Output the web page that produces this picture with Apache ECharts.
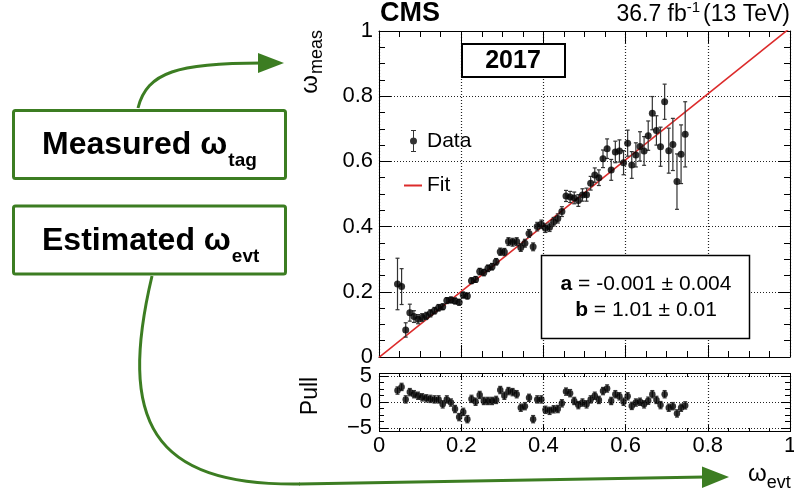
<!DOCTYPE html>
<html><head><meta charset="utf-8">
<script src="https://cdn.jsdelivr.net/npm/echarts@6/dist/echarts.min.js"></script>
<style>html,body{margin:0;padding:0;background:#fff}#c{width:794px;height:489px}</style>
</head><body><div id="c"></div>
<script>
// ---------------- data ----------------
const binX = [0.045,0.055,0.065,0.075,0.085,0.095,0.105,0.115,0.125,0.135,
  0.145,0.155,0.165,0.175,0.185,0.195,0.205,0.215,0.225,0.235,
  0.245,0.255,0.265,0.275,0.285,0.295,0.305,0.315,0.325,0.335,
  0.345,0.355,0.365,0.375,0.385,0.395,0.405,0.415,0.425,0.435,
  0.445,0.455,0.465,0.475,0.485,0.495,0.505,0.515,0.525,0.535,
  0.545,0.555,0.565,0.575,0.585,0.595,0.605,0.615,0.625,0.635,
  0.645,0.655,0.665,0.675,0.685,0.695,0.705,0.715,0.725,0.735,0.745];
const wMeas = [0.224,0.216,0.083,0.136,0.124,0.116,0.121,0.126,0.134,0.142,
  0.151,0.154,0.173,0.175,0.172,0.168,0.190,0.187,0.234,0.238,
  0.262,0.259,0.272,0.277,0.292,0.323,0.322,0.354,0.352,0.354,
  0.336,0.349,0.379,0.338,0.400,0.407,0.395,0.398,0.415,0.425,
  0.446,0.494,0.491,0.488,0.480,0.497,0.498,0.533,0.558,0.550,
  0.608,0.639,0.574,0.629,0.632,0.596,0.656,0.589,0.620,0.646,
  0.632,0.679,0.748,0.695,0.645,0.783,0.633,0.652,0.538,0.622,0.683];
const wMeasErr = [0.079,0.055,0.022,0.026,0.018,0.014,0.012,0.011,0.011,0.010,
  0.010,0.009,0.009,0.009,0.009,0.009,0.009,0.009,0.009,0.009,
  0.010,0.010,0.010,0.010,0.010,0.011,0.011,0.012,0.012,0.012,
  0.012,0.012,0.012,0.012,0.013,0.013,0.013,0.013,0.013,0.014,
  0.015,0.017,0.017,0.018,0.018,0.019,0.020,0.021,0.022,0.024,
  0.027,0.030,0.032,0.033,0.034,0.037,0.040,0.041,0.037,0.045,
  0.044,0.045,0.051,0.045,0.060,0.054,0.069,0.080,0.085,0.090,0.100];
const pullVals = [2.2,2.9,0.5,1.9,1.5,1.2,0.9,0.7,0.6,0.5,
  0.5,-0.45,0.5,-0.1,-1.35,-2.9,-1.9,-3.3,0.6,0.05,
  1.35,0.2,0.2,0.2,0.4,2.3,1.2,2.1,1.9,1.5,
  -1.1,-0.8,0.8,-3.3,0.5,0.5,-1.5,-1.7,-1.4,-1.35,
  -0.25,2.0,1.7,0.2,-0.6,-0.1,-0.45,0.5,1.2,0.4,
  2.1,2.6,0.2,1.5,1.1,0.05,1.1,-0.75,-0.1,0.05,
  -0.45,0.25,1.5,0.4,-0.6,1.5,-1.1,-0.8,-2.2,-1.1,-0.65];
const pullErrBar = 0.7;
const fitA = -0.001, fitB = 1.01;
const fitText = ['{b|a} = -0.001 ± 0.004', '{b|b} = 1.01 ± 0.01'];

// ---------------- styling ----------------
const FONT = '"Liberation Sans", Arial, Helvetica, sans-serif';
const GREEN = '#3c7d22';
const RED = '#dc2b2b';
const GRIDC = '#222';

const cv = document.createElement('canvas').getContext('2d');
function tw(t, f){ cv.font = f; return cv.measureText(t).width; }

const chart = echarts.init(document.getElementById('c'), null, {renderer:'canvas', width:794, height:489});

function errRender(cap, color){
  return function(params, api){
    const x = api.value(0), y = api.value(1), e = api.value(2);
    const t = api.coord([x, y + e]), b = api.coord([x, y - e]);
    const st = {stroke: color, lineWidth: 1.2};
    return {type:'group', children:[
      {type:'line', shape:{x1:t[0], y1:t[1], x2:b[0], y2:b[1]}, style:st},
      {type:'line', shape:{x1:t[0]-cap, y1:t[1], x2:t[0]+cap, y2:t[1]}, style:st},
      {type:'line', shape:{x1:b[0]-cap, y1:b[1], x2:b[0]+cap, y2:b[1]}, style:st}
    ]};
  };
}

const mainPts = binX.map((x,i)=>[x, wMeas[i]]);
const mainErr = binX.map((x,i)=>[x, wMeas[i], wMeasErr[i]]);
const pullPts = binX.map((x,i)=>[x, pullVals[i]]);
const pullErr = binX.map((x,i)=>[x, pullVals[i], pullErrBar]);
const fitLine = [[0, fitA + fitB*0], [1, fitA + fitB*1]];

const blk = {color:'#000', width:1};
function xAx(grid, pos, opts){
  return Object.assign({
    type:'value', gridIndex:grid, position:pos, min:0, max:1, interval:0.2,
    axisLine:{show:true, onZero:false, lineStyle:blk},
    axisTick:{show:true, inside:true, length:12, lineStyle:blk},
    minorTick:{show:true, splitNumber:4, length:6, lineStyle:blk},
    axisLabel:{show:false},
    splitLine:{show:false}
  }, opts);
}
function yAx(grid, pos, opts){
  return Object.assign({
    type:'value', gridIndex:grid, position:pos, min:0, max:1, interval:0.2,
    axisLine:{show:true, onZero:false, lineStyle:blk},
    axisTick:{show:true, inside:true, length:12, lineStyle:blk},
    minorTick:{show:true, splitNumber:4, length:6, lineStyle:blk},
    axisLabel:{show:false},
    splitLine:{show:false}
  }, opts);
}
const lblStyle = {show:true, color:'#000', fontSize:22, fontFamily:FONT};
const dotted = {show:true, lineStyle:{color:GRIDC, type:[1,2], width:1.2}};
const noLine = {show:false, onZero:false};

// text helpers
const fMeas = 'bold 32px ' + FONT, fSub = 'bold 19px ' + FONT;
const wM = tw('Measured ω', fMeas), wE = tw('Estimated ω', fMeas);
const fLumi = '23px ' + FONT, fLumiSup = '15px ' + FONT;
const l3 = '(13 TeV)', l2 = '-1', l1 = '36.7 fb';
const xL3 = 790 - tw(l3, fLumi);
const xL2 = xL3 - 3 - tw(l2, fLumiSup);
const xL1 = xL2 - tw(l1, fLumi);
const wOmega = tw('ω', '24px ' + FONT);
const wMeasSub = tw('meas', '18px ' + FONT);

function txt(x, y, text, font, align, vAlign, extra){
  return Object.assign({type:'text', x:x, y:y, style:{text:text, font:font, fill:'#000', align:align||'left', verticalAlign:vAlign||'middle'}}, extra||{});
}

const graphics = [
  // annotation boxes
  {type:'rect', shape:{x:13.5, y:110.5, width:272, height:68, r:2}, style:{fill:'none', stroke:GREEN, lineWidth:3}},
  {type:'rect', shape:{x:13.5, y:206, width:272, height:68, r:2}, style:{fill:'none', stroke:GREEN, lineWidth:3}},
  txt(42, 145, 'Measured ω', fMeas),
  txt(42 + wM + 1, 161, 'tag', fSub),
  txt(42, 241, 'Estimated ω', fMeas),
  txt(42 + wE + 1, 257, 'evt', fSub),
  // arrows
  {type:'bezierCurve', shape:{x1:138, y1:108, cpx1:147, cpy1:72, cpx2:178, cpy2:63, x2:262, y2:63}, style:{fill:'none', stroke:GREEN, lineWidth:3}},
  {type:'polygon', shape:{points:[[258,53],[284,63],[258,73]]}, style:{fill:GREEN}},
  {type:'bezierCurve', shape:{x1:152, y1:276, cpx1:118, cpy1:420, cpx2:150, cpy2:486, x2:300, y2:484}, style:{fill:'none', stroke:GREEN, lineWidth:3}},
  {type:'line', shape:{x1:299, y1:484, x2:705, y2:477}, style:{stroke:GREEN, lineWidth:3}},
  {type:'polygon', shape:{points:[[702,466.5],[729,477],[702,488]]}, style:{fill:GREEN}},
  // header
  txt(380, 14, 'CMS', 'bold 27px ' + FONT),
  txt(xL1, 15, l1, fLumi),
  txt(xL2, 8, l2, fLumiSup),
  txt(xL3, 15, l3, fLumi),
  // year box
  {type:'rect', shape:{x:462, y:44, width:103, height:33}, style:{fill:'#fff', stroke:'#000', lineWidth:2}, z:10},
  txt(513, 61, '2017', 'bold 25px ' + FONT, 'center', 'middle', {z:11}),
  // fit box
  {type:'rect', shape:{x:541.5, y:255.5, width:208, height:83}, style:{fill:'#fff', stroke:'#000', lineWidth:1.5}, z:10},
  {type:'text', x:646, y:284, z:11, style:{text:fitText[0], font:'21px ' + FONT, fill:'#000', align:'center', verticalAlign:'middle', rich:{b:{fontWeight:'bold', fontSize:21, fontFamily:FONT}}}},
  {type:'text', x:646, y:310, z:11, style:{text:fitText[1], font:'21px ' + FONT, fill:'#000', align:'center', verticalAlign:'middle', rich:{b:{fontWeight:'bold', fontSize:21, fontFamily:FONT}}}},
  // axis titles
  txt(317, 30, 'meas', '18px ' + FONT, 'right', 'middle', {rotation:Math.PI/2}),
  txt(310, 30 + wMeasSub + 1, 'ω', '24px ' + FONT, 'right', 'middle', {rotation:Math.PI/2}),
  txt(311, 396, 'Pull', '23px ' + FONT, 'center', 'middle', {rotation:Math.PI/2}),
  txt(748, 474, 'ω', '24px ' + FONT),
  txt(748 + wOmega, 483, 'evt', '18px ' + FONT),
  // pull frame
  {type:'rect', shape:{x:379.5, y:373.5, width:411, height:58}, style:{fill:'none', stroke:'#000', lineWidth:1}, z:5}
];

const option = {
  animation:false,
  backgroundColor:'#fff',
  grid:[
    {left:379, top:31, width:411, height:326, outerBoundsMode:'none', containLabel:false},
    {left:379, top:376, width:411, height:52, outerBoundsMode:'none', containLabel:false}
  ],
  xAxis:[
    xAx(0, 'bottom', {splitLine:dotted}),
    xAx(0, 'top'),
    xAx(1, 'bottom', {offset:4, axisLine:noLine, axisTick:{show:true, inside:true, length:7, lineStyle:blk},
      minorTick:{show:true, splitNumber:4, length:4, lineStyle:blk},
      axisLabel:Object.assign({margin:3}, lblStyle), splitLine:dotted}),
    xAx(1, 'top', {offset:3, axisLine:noLine, axisTick:{show:true, inside:true, length:7, lineStyle:blk},
      minorTick:{show:true, splitNumber:4, length:4, lineStyle:blk}})
  ],
  yAxis:[
    yAx(0, 'left', {axisLabel:Object.assign({margin:6}, lblStyle), splitLine:dotted}),
    yAx(0, 'right'),
    yAx(1, 'left', {min:-5, max:5, interval:5, axisLine:noLine,
      axisTick:{show:true, inside:true, length:9, lineStyle:blk},
      minorTick:{show:true, splitNumber:4, length:5, lineStyle:blk},
      axisLabel:Object.assign({margin:7, formatter:v=>String(v).replace('-', '\u2212')}, lblStyle), splitLine:dotted}),
    yAx(1, 'right', {min:-5, max:5, interval:5, axisLine:noLine,
      axisTick:{show:true, inside:true, length:9, lineStyle:blk},
      minorTick:{show:true, splitNumber:4, length:5, lineStyle:blk}})
  ],
  legend:[
    {data:[{name:'Data', icon:'path://M1,0 H6 V1 H4 V21 H6 V22 H1 V21 H3 V1 H1 Z M7,11 A3.5,3.5 0 1 1 0,11 A3.5,3.5 0 1 1 7,11 Z'}],
     left:410, top:130, itemWidth:7, itemHeight:22, padding:0, selectedMode:false,
     textStyle:{fontSize:21, fontFamily:FONT, color:'#000', padding:[0,0,0,5]}},
    {data:[{name:'Fit', icon:'rect'}],
     left:404, top:175, itemWidth:18, itemHeight:2, padding:0, selectedMode:false,
     textStyle:{fontSize:21, fontFamily:FONT, color:'#000'}}
  ],
  series:[
    {name:'Fit', type:'line', xAxisIndex:0, yAxisIndex:0, data:fitLine, showSymbol:false, clip:true,
     color:RED, lineStyle:{color:RED, width:1.6}, z:3, silent:true},
    {name:'DataErr', type:'custom', xAxisIndex:0, yAxisIndex:0, data:mainErr, renderItem:errRender(2, '#333'), z:4, silent:true},
    {name:'Data', type:'scatter', xAxisIndex:0, yAxisIndex:0, data:mainPts, symbol:'circle', symbolSize:7,
     itemStyle:{color:'#000'}, z:5, silent:true},
    {name:'PullErr', type:'custom', xAxisIndex:2, yAxisIndex:2, data:pullErr, renderItem:errRender(2, '#333'), z:4, silent:true},
    {name:'Pull', type:'scatter', xAxisIndex:2, yAxisIndex:2, data:pullPts, symbol:'circle', symbolSize:6.5,
     itemStyle:{color:'#000'}, z:5, silent:true}
  ],
  graphic:{elements:graphics}
};
chart.setOption(option);
</script>
</body></html>
